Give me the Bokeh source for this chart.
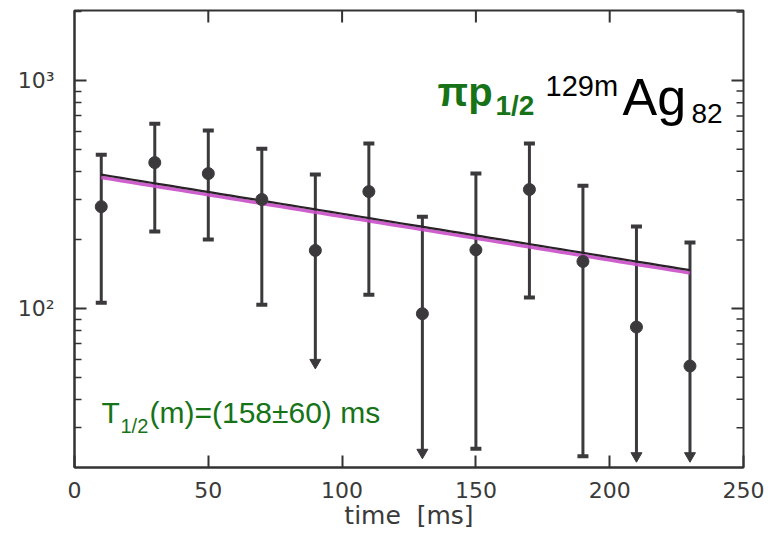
import numpy as np
from bokeh.plotting import figure
from bokeh.models import ColumnDataSource, FixedTicker, Label
from bokeh.embed import file_html
from bokeh.resources import INLINE

# Decay-time spectrum of 129mAg (counts per 20 ms bin)
time_ms = [10, 30, 50, 70, 90, 110, 130, 150, 170, 190, 210, 230]
counts = [280, 437, 391, 301, 180, 326, 95, 181, 333, 161, 83, 56]
err_hi = [473, 647, 604, 503, 387, 530, 253, 391, 530, 346, 229, 195]
err_lo = [106, 218, 201, 104, 58, 115, 23.4, 24.3, 112, 22.5, 22.6, 22.6]
is_limit = [0, 0, 0, 0, 1, 0, 1, 0, 0, 0, 1, 1]   # lower bound open (arrow)

# exponential fit
fit_n0 = 387.0        # counts at t = 10 ms
fit_t0 = 10.0
half_life = 158.0     # ms
fit_t_end = 230.0

x_ticks = [0, 50, 100, 150, 200, 250]
y_major = [100, 1000]
y_minor = [20, 30, 40, 50, 60, 70, 80, 90, 200, 300, 400, 500, 600, 700, 800, 900, 2000]

X_MIN, X_MAX = 0, 250
Y_MIN, Y_MAX = 20.1, 2030

INK = "#3b393c"
FRAME = "#333333"
GREEN = "#177317"
TICK_FONT = "DejaVu Sans"

p = figure(width=772, height=538, y_axis_type="log",
           x_range=(X_MIN, X_MAX), y_range=(Y_MIN, Y_MAX),
           output_backend="svg", toolbar_location=None,
           min_border_left=74, min_border_right=29,
           min_border_top=10, min_border_bottom=71)
p.background_fill_color = "white"
p.border_fill_color = "white"
p.xgrid.visible = False
p.ygrid.visible = False
p.outline_line_color = FRAME
p.outline_line_width = 2

for ax in (p.xaxis[0], p.yaxis[0]):
    ax.axis_line_color = FRAME
    ax.axis_line_width = 2
    ax.major_tick_line_color = FRAME
    ax.major_tick_line_width = 2
    ax.minor_tick_line_color = FRAME
    ax.minor_tick_line_width = 1.5
    ax.major_tick_in = 12
    ax.major_tick_out = 0
    ax.minor_tick_in = 7
    ax.minor_tick_out = 0
    ax.major_label_text_font = TICK_FONT
    ax.major_label_text_font_size = "22px"
    ax.major_label_text_color = "#3a3a3a"

p.xaxis.ticker = FixedTicker(ticks=x_ticks, minor_ticks=[])
p.yaxis.ticker = FixedTicker(ticks=y_major, minor_ticks=y_minor)
p.xaxis.major_label_standoff = 14
p.yaxis.major_label_standoff = 20
p.yaxis.major_label_overrides = {100: "10²", 1000: "10³"}

p.xaxis.axis_label = "time\u00a0\u00a0[ms]"
p.xaxis.axis_label_standoff = 0
p.xaxis.axis_label_text_font = TICK_FONT
p.xaxis.axis_label_text_font_size = "25px"
p.xaxis.axis_label_text_font_style = "normal"
p.xaxis.axis_label_text_color = "#3a3a3a"

# inward ticks along the top and right edges of the frame (half of each
# dash is clipped away by the frame, leaving the inner half)
p.scatter(x_ticks[1:-1], [Y_MAX] * (len(x_ticks) - 2), marker="dash", angle=np.pi / 2,
          size=24, line_color=FRAME, line_width=2)
p.scatter([X_MAX] * len(y_major), y_major, marker="dash", size=24,
          line_color=FRAME, line_width=2)
p.scatter([X_MAX] * len(y_minor), y_minor, marker="dash", size=14,
          line_color=FRAME, line_width=1.5)

# error bars
src = ColumnDataSource(dict(t=time_ms, n=counts, hi=err_hi, lo=err_lo))
p.segment(x0="t", y0="lo", x1="t", y1="hi", source=src, line_color=INK, line_width=3)
p.scatter(x="t", y="hi", source=src, marker="dash", size=11, line_color=INK, line_width=4)

cap_t = [t for t, f in zip(time_ms, is_limit) if not f]
cap_lo = [v for v, f in zip(err_lo, is_limit) if not f]
lim_t = [t for t, f in zip(time_ms, is_limit) if f]
lim_lo = [v for v, f in zip(err_lo, is_limit) if f]
p.scatter(cap_t, cap_lo, marker="dash", size=11, line_color=INK, line_width=4)
p.scatter(lim_t, lim_lo, marker="inverted_triangle", size=11,
          fill_color=INK, line_color=INK, line_width=1)

# fit line (pink shading just under the black curve)
t_fit = np.linspace(fit_t0, fit_t_end, 60)
n_fit = fit_n0 * 2.0 ** (-(t_fit - fit_t0) / half_life)
p.line(t_fit, n_fit * 0.972, line_color="#c84fc8", line_width=3.5, line_alpha=0.9)
p.line(t_fit, n_fit, line_color="#2a2228", line_width=2.2)

# data points
p.scatter(x="t", y="n", source=src, marker="circle", size=12,
          fill_color=INK, line_color=INK)


def lab(sx, sy, text, size, color, bold=False):
    p.add_layout(Label(x=sx, y=sy, x_units="screen", y_units="screen", text=text,
                       text_font="Liberation Sans", text_font_size=size,
                       text_font_style="bold" if bold else "normal",
                       text_color=color, text_baseline="middle"))


# nuclide label
lab(363, 376, "πp", "40px", GREEN, bold=True)
lab(421, 362, "1/2", "28px", GREEN, bold=True)
lab(471, 382, "129m", "29px", "black")
lab(548, 371, "Ag", "52px", "black")
lab(617, 354, "82", "28px", "black")

# half-life label
lab(27, 55, "T", "30px", GREEN)
lab(46, 42, "1/2", "20px", GREEN)
lab(75, 55, "(m)=(158±60) ms", "30px", GREEN)

open("out.html", "w").write(file_html(p, INLINE))
